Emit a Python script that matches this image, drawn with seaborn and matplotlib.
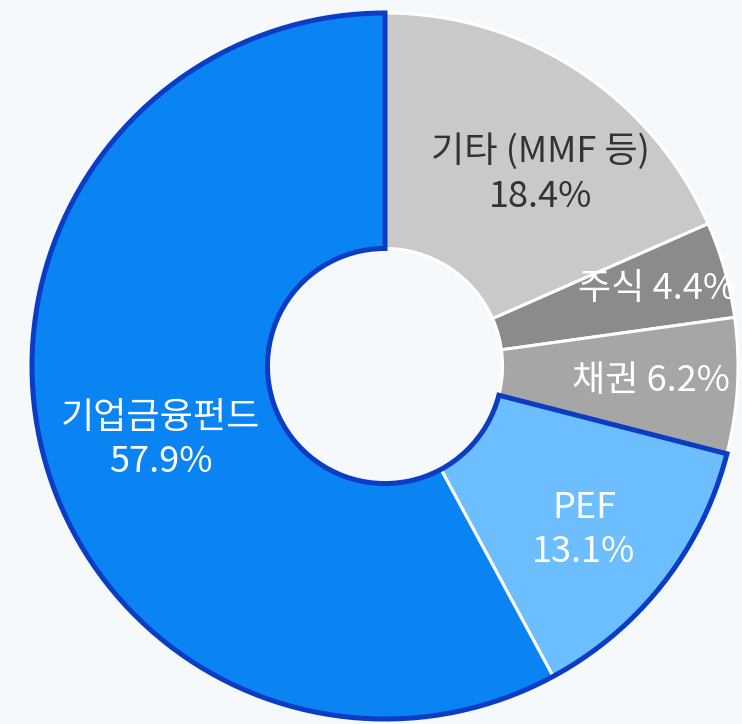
import seaborn as sns
import matplotlib.pyplot as plt
from matplotlib.patches import Wedge
import numpy as np

sns.set_theme(style='white')
plt.rcParams['font.family'] = ['Noto Sans CJK KR', 'DejaVu Sans']

# 구성 비율 (12시 방향부터 시계방향)
categories = ['기타 (MMF 등)', '주식', '채권', 'PEF', '기업금융펀드']
shares = [18.4, 4.4, 6.2, 13.1, 57.9]
colors = ['#c9c9c9', '#8c8b89', '#a6a6a6', '#6cbeff', '#0a84f2']
text_colors = ['#333333', 'white', 'white', 'white', 'white']
two_line = [True, False, False, True, True]

bg = '#f5f9fc'
border = '#0a3cc4'
ring = 0.667

fig = plt.figure(figsize=(7.42, 7.24), dpi=100, facecolor=bg)
ax = fig.add_axes([0, 0, 1, 1])
ax.set_facecolor(bg)

wedges, _ = ax.pie(shares, colors=colors, startangle=90, counterclock=False,
                   radius=1.0, wedgeprops=dict(width=ring, edgecolor='white', linewidth=2.2))

# 기업금융펀드 + PEF 묶음 테두리
ax.add_patch(Wedge((0, 0), 1.0, wedges[4].theta1, wedges[3].theta2, width=ring,
                   fill=False, edgecolor=border, linewidth=3.6, zorder=5))

# 라벨 위치 (반지름, 각도 보정)
label_r = [0.70, 0.80, 0.755, 0.73, 0.67]
label_shift = [-6, 0, 0, -1.5, 4]
for w, cat, val, tc, tl, r, d in zip(wedges, categories, shares, text_colors,
                                     two_line, label_r, label_shift):
    ang = np.deg2rad((w.theta1 + w.theta2) / 2 + d)
    x, y = r * np.cos(ang), r * np.sin(ang)
    txt = f'{cat}\n{val}%' if tl else f'{cat} {val}%'
    ax.text(x, y, txt, ha='center', va='center', color=tc, fontsize=26,
            fontweight='light', linespacing=1.3, zorder=6)

s = 353.0
cx, cy = 385.0, 366.0
ax.set_aspect('auto')
ax.set_xlim(-cx / s, (742 - cx) / s)
ax.set_ylim(-(724 - cy) / s, cy / s)
ax.axis('off')

fig.savefig('out.png', dpi=100, facecolor=bg)
